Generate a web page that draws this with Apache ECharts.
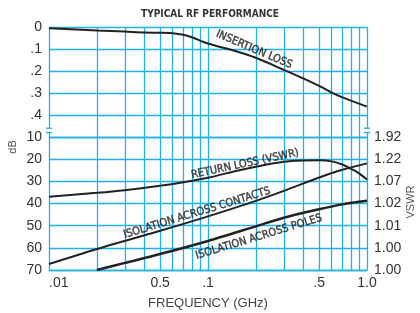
<!DOCTYPE html>
<html>
<head>
<meta charset="utf-8">
<script src="https://cdn.jsdelivr.net/npm/echarts@6/dist/echarts.min.js"></script>
<style>
  html, body { margin: 0; padding: 0; background: #fff; }
  #chart { width: 420px; height: 313px; }
</style>
</head>
<body>
<div id="chart"></div>
<script>
// frequency axis (GHz, log)
const freqTicks = [0.01, 0.05, 0.1, 0.5, 1.0];
const freqTickLabels = ['.01', '0.5', '.1', '.5', '1.0'];
const minorFreqs = [0.02, 0.03, 0.04, 0.05, 0.06, 0.07, 0.08, 0.09,
                    0.2, 0.3, 0.4, 0.5, 0.6, 0.7, 0.8, 0.9];

// right axis labels (VSWR for 10..70 dB return loss)
const vswrLabels = ['1.92', '1.22', '1.07', '1.02', '1.01', '1.00', '1.00'];

// insertion loss (dB)
const insertionFreq = [0.01, 0.02, 0.03, 0.04, 0.05, 0.06, 0.07, 0.08, 0.1, 0.15, 0.2, 0.3, 0.4, 0.5, 0.6, 0.7, 0.8, 1.0];
const insertionLoss = [0.006, 0.016, 0.021, 0.025, 0.026, 0.028, 0.035, 0.048, 0.075, 0.11, 0.14, 0.195, 0.235, 0.268, 0.298, 0.32, 0.336, 0.362];

// return loss (dB)
const returnFreq = [0.01, 0.02, 0.03, 0.05, 0.07, 0.1, 0.15, 0.2, 0.3, 0.4, 0.5, 0.6, 0.7, 0.8, 0.9, 1.0];
const returnLoss = [36.9, 35.2, 34.0, 32.0, 30.4, 28.4, 25.3, 23.4, 21.2, 20.6, 20.5, 21.0, 22.4, 24.5, 26.6, 29.2];

// isolation across contacts (dB)
const contactsFreq = [0.01, 0.02, 0.05, 0.1, 0.2, 0.3, 0.5, 0.7, 1.0];
const contactsIso = [67.3, 60.5, 52.3, 45.8, 38.8, 34.3, 28.3, 24.8, 21.9];

// isolation across poles (dB)
const polesFreq = [0.02, 0.03, 0.05, 0.1, 0.2, 0.3, 0.5, 0.7, 1.0];
const polesIso = [70.0, 66.8, 62.8, 56.9, 50.3, 46.4, 42.6, 40.4, 38.8];

// curve captions: [freq, dB, rotation]
const captions = [
  { text: 'INSERTION LOSS', grid: 0, at: [0.195, 0.103], rotate: -23 },
  { text: 'RETURN LOSS (VSWR)', grid: 1, at: [0.171, 22.2], rotate: 12 },
  { text: 'ISOLATION ACROSS CONTACTS', grid: 1, at: [0.0853, 44.3], rotate: 17 },
  { text: 'ISOLATION ACROSS POLES', grid: 1, at: [0.209, 55.1], rotate: 17 }
];

const gridBlue = '#1fb2ea';
const ink = '#222';
const narrow = '"Liberation Sans Narrow", "DejaVu Sans Condensed", "Roboto Condensed", "Liberation Sans", sans-serif';

const chart = echarts.init(document.getElementById('chart'));

function pair(xs, ys) { return xs.map((x, i) => [x, ys[i]]); }

function freqLabel(v) {
  for (let i = 0; i < freqTicks.length; i++) {
    if (Math.abs(v - freqTicks[i]) / freqTicks[i] < 1e-6) return freqTickLabels[i];
  }
  return '';
}

function xAxisFor(gridIndex, showLabels) {
  return {
    type: 'log', gridIndex: gridIndex, min: 0.01, max: 1.0, logBase: 10,
    axisLine: { show: showLabels, lineStyle: { color: gridBlue, width: 1.3 } },
    axisTick: { show: false },
    splitLine: { show: true, lineStyle: { color: gridBlue, width: 1.3 } },
    axisLabel: {
      show: showLabels, customValues: freqTicks, formatter: freqLabel,
      color: '#333', fontFamily: 'Liberation Sans', fontSize: 14, margin: 6,
      alignMinLabel: 'left', alignMaxLabel: 'center'
    },
    name: showLabels ? 'FREQUENCY (GHz)' : '',
    nameLocation: 'middle', nameGap: 27,
    nameTextStyle: { color: '#444', fontFamily: 'Liberation Sans', fontSize: 13 }
  };
}

const gridLinesMark = {
  silent: true, symbol: ['none', 'none'], animation: false,
  label: { show: false },
  lineStyle: { color: gridBlue, width: 1.3, type: 'solid' },
  emphasis: { disabled: true },
  data: minorFreqs.map(f => ({ xAxis: f }))
};

function curve(name, gridIndex, data, width) {
  return {
    name: name, type: 'line', xAxisIndex: gridIndex, yAxisIndex: gridIndex,
    data: data, smooth: 0.3, symbol: 'none', z: 5,
    lineStyle: { color: ink, width: width }
  };
}

const captionSeries = captions.map(c => ({
  type: 'scatter', xAxisIndex: c.grid, yAxisIndex: c.grid,
  data: [c.at], symbolSize: 1, itemStyle: { color: 'rgba(0,0,0,0)' }, z: 6,
  label: {
    show: true, formatter: c.text, position: 'inside', rotate: c.rotate,
    color: '#1a1a1a', fontFamily: narrow, fontSize: 11,
    textBorderColor: '#1a1a1a', textBorderWidth: 0.4
  }
}));

const option = {
  animation: false,
  title: {
    text: 'TYPICAL RF PERFORMANCE', left: 'center', top: 4,
    textStyle: { fontFamily: narrow, fontWeight: 'bold', fontSize: 10, color: '#333' }
  },
  grid: [
    { left: 49, right: 53, top: 27, height: 110 },
    { left: 49, right: 53, top: 137, height: 133 }
  ],
  xAxis: [xAxisFor(0, false), xAxisFor(1, true)],
  yAxis: [
    {
      type: 'value', gridIndex: 0, inverse: true, min: 0, max: 0.5, interval: 0.1,
      axisLine: { show: false }, axisTick: { show: false },
      splitLine: { lineStyle: { color: gridBlue, width: 1.3 } },
      axisLabel: {
        color: '#333', fontFamily: 'Liberation Sans', fontSize: 14, margin: 7,
        formatter: v => (v === 0 ? '0' : (v > 0.45 ? '' : String(v).replace(/^0/, '')))
      }
    },
    {
      type: 'value', gridIndex: 1, inverse: true, min: 10, max: 70, interval: 10,
      axisLine: { show: false }, axisTick: { show: false },
      splitLine: { lineStyle: { color: gridBlue, width: 1.3 } },
      axisLabel: { color: '#333', fontFamily: 'Liberation Sans', fontSize: 14, margin: 7 }
    },
    {
      type: 'value', gridIndex: 1, position: 'right', inverse: true, min: 10, max: 70, interval: 10,
      axisLine: { show: false }, axisTick: { show: false }, splitLine: { show: false },
      axisLabel: {
        color: '#333', fontFamily: 'Liberation Sans', fontSize: 14, margin: 7,
        formatter: v => vswrLabels[Math.round((v - 10) / 10)]
      }
    }
  ],
  series: [
    { type: 'line', xAxisIndex: 0, yAxisIndex: 0, data: [], z: 1, markLine: gridLinesMark },
    { type: 'line', xAxisIndex: 1, yAxisIndex: 1, data: [], z: 1, markLine: gridLinesMark },
    curve('Insertion loss', 0, pair(insertionFreq, insertionLoss), 2),
    curve('Return loss', 1, pair(returnFreq, returnLoss), 2),
    curve('Isolation across contacts', 1, pair(contactsFreq, contactsIso), 2),
    curve('Isolation across poles', 1, pair(polesFreq, polesIso), 2.5)
  ].concat(captionSeries)
};

chart.setOption(option);

// axis break marks and side titles
const breakTop = chart.convertToPixel({ gridIndex: 0 }, [0.01, 0.46]);
const breakBot = chart.convertToPixel({ gridIndex: 0 }, [1.0, 0.48]);
const marks = [];
[breakTop[0], breakBot[0]].forEach(x => {
  marks.push({ type: 'rect', shape: { x: x - 2, y: breakTop[1], width: 4, height: breakBot[1] - breakTop[1] }, style: { fill: '#fff' }, z: 10 });
  marks.push({ type: 'line', shape: { x1: x - 3, y1: breakTop[1], x2: x + 3, y2: breakTop[1] }, style: { stroke: gridBlue, lineWidth: 1.3 }, z: 11 });
  marks.push({ type: 'line', shape: { x1: x - 3, y1: breakBot[1], x2: x + 3, y2: breakBot[1] }, style: { stroke: gridBlue, lineWidth: 1.3 }, z: 11 });
});
marks.push({
  type: 'text', x: 13, y: 147, rotation: Math.PI / 2,
  style: { text: 'dB', fill: '#555', font: '11px "Liberation Sans"', align: 'center', verticalAlign: 'middle' }
});
marks.push({
  type: 'text', x: 411, y: 202, rotation: Math.PI / 2,
  style: { text: 'VSWR', fill: '#555', font: '11px "Liberation Sans"', align: 'center', verticalAlign: 'middle' }
});
chart.setOption({ graphic: marks });
</script>
</body>
</html>
